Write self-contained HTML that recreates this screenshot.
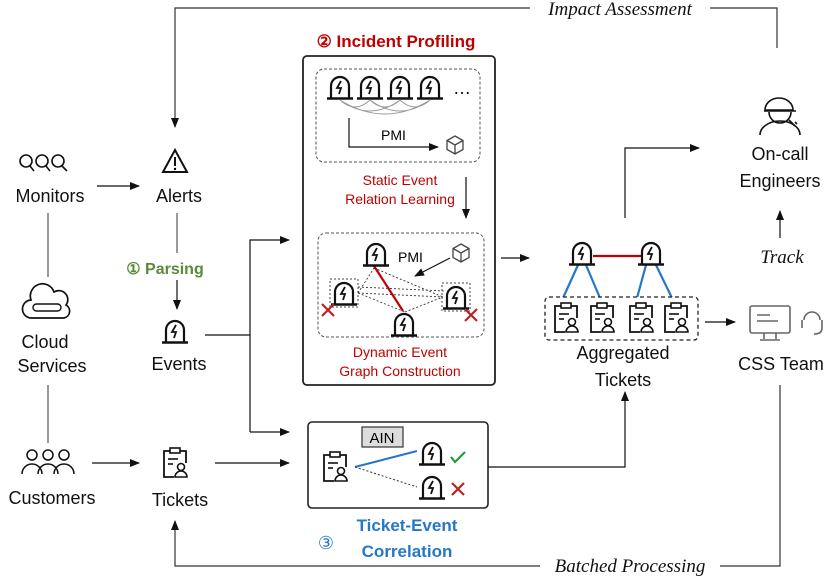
<!DOCTYPE html>
<html><head><meta charset="utf-8"><style>
body{margin:0;background:#fff}
svg{display:block}
text{font-family:"Liberation Sans",sans-serif}
.l{font-size:18px;fill:#111;text-anchor:middle}
.r{font-size:14px;fill:#c00000;text-anchor:middle}
.it{font-family:"Liberation Serif",serif;font-style:italic;font-size:19px;fill:#111;text-anchor:middle}
</style></head><body>
<svg width="831" height="579" viewBox="0 0 831 579" xmlns="http://www.w3.org/2000/svg">
<defs>
<marker id="a" markerWidth="10" markerHeight="10" refX="9" refY="5" orient="auto" markerUnits="userSpaceOnUse"><path d="M0,1 L10,5 L0,9z" fill="#111"/></marker>
<symbol id="ev" viewBox="-14 -24 28 26" overflow="visible">
<path d="M-9,0 V-12 A9,9 0 0 1 9,-12 V0" fill="none" stroke="#111" stroke-width="2.2"/>
<line x1="-13" y1="0.5" x2="13" y2="0.5" stroke="#111" stroke-width="2.6"/>
<path d="M1,-17 L-3,-10 L1,-10 L-1,-4" fill="none" stroke="#111" stroke-width="1.8"/>
</symbol>
<symbol id="tk" viewBox="-14 -16 28 32" overflow="visible">
<path d="M-4,-12 H-11 V14 H-1 M4,-12 H11 V0" fill="none" stroke="#111" stroke-width="1.8"/>
<rect x="-5" y="-15" width="10" height="5" fill="#fff" stroke="#111" stroke-width="1.6"/>
<line x1="-7" y1="-4" x2="3" y2="-4" stroke="#111" stroke-width="1.6"/>
<line x1="-7" y1="1" x2="-2" y2="1" stroke="#111" stroke-width="1.6"/>
<circle cx="6" cy="4" r="3.5" fill="#fff" stroke="#111" stroke-width="1.6"/>
<path d="M0,14 A6,6 0 0 1 12,14 Z" fill="#fff" stroke="#111" stroke-width="1.6"/>
</symbol>
<symbol id="cube" viewBox="-10 -10 20 20" overflow="visible">
<path d="M0,-9 L8,-4.5 V4.5 L0,9 L-8,4.5 V-4.5 Z M-8,-4.5 L0,0 L8,-4.5 M0,0 V9" fill="none" stroke="#444" stroke-width="1.3"/>
</symbol>
<symbol id="x" viewBox="-7 -7 14 14" overflow="visible">
<path d="M-6,-6 L6,6 M6,-6 L-6,6" stroke="#b22" stroke-width="2.2"/>
</symbol>
</defs>

<!-- Impact Assessment -->
<path d="M777,48 V8 H175 V127" fill="none" stroke="#333" stroke-width="1.2" marker-end="url(#a)"/>
<rect x="530" y="0" width="180" height="18" fill="#fff"/>
<text class="it" x="620" y="15">Impact Assessment</text>

<!-- Monitors -->
<g fill="none" stroke="#111" stroke-width="1.6">
<circle cx="26" cy="161" r="6"/><circle cx="42" cy="161" r="6"/><circle cx="58" cy="161" r="6"/>
<path d="M30,166 L34,171 M46,166 L50,171 M62,166 L67,171"/>
</g>
<text class="l" x="50" y="202">Monitors</text>
<line x1="97" y1="186" x2="139" y2="186" stroke="#111" stroke-width="1.3" marker-end="url(#a)"/>
<path d="M175,150 L187,172 H163 Z" fill="none" stroke="#111" stroke-width="2"/>
<line x1="175" y1="157" x2="175" y2="166" stroke="#111" stroke-width="2"/><circle cx="175" cy="169" r="1.2"/>
<text class="l" x="179" y="202">Alerts</text>

<line x1="48" y1="213" x2="48" y2="277" stroke="#555" stroke-width="1.2"/>
<!-- cloud -->
<path d="M32,318 A9,9 0 0 1 31,300 A12,12 0 0 1 54,292 A9,9 0 0 1 66,305 A7,7 0 0 1 64,318 Z" fill="none" stroke="#111" stroke-width="1.7"/>
<rect x="33" y="304" width="28" height="7" rx="3.5" fill="none" stroke="#111" stroke-width="1.4"/>
<text class="l" x="45" y="348">Cloud</text>
<text class="l" x="52" y="372">Services</text>
<line x1="48" y1="385" x2="48" y2="443" stroke="#555" stroke-width="1.2"/>
<!-- customers -->
<g fill="none" stroke="#111" stroke-width="1.5">
<circle cx="32" cy="455" r="5"/><circle cx="48" cy="455" r="5"/><circle cx="64" cy="455" r="5"/>
<path d="M22,474 A10,10 0 0 1 42,474 M38,474 A10,10 0 0 1 58,474 M54,474 A10,10 0 0 1 74,474"/>
</g>
<text class="l" x="52" y="504">Customers</text>
<line x1="92" y1="463" x2="139" y2="463" stroke="#111" stroke-width="1.3" marker-end="url(#a)"/>
<use href="#tk" x="161" y="447" width="28" height="32"/>
<text class="l" x="180" y="506">Tickets</text>
<line x1="215" y1="463" x2="289" y2="463" stroke="#111" stroke-width="1.3" marker-end="url(#a)"/>

<!-- Parsing -->
<line x1="177" y1="213" x2="177" y2="253" stroke="#555" stroke-width="1.2"/>
<text x="165" y="274" style="font-size:16px;font-weight:bold;fill:#5a8a3a;text-anchor:middle">① Parsing</text>
<line x1="177" y1="280" x2="177" y2="309" stroke="#111" stroke-width="1.2" marker-end="url(#a)"/>
<use href="#ev" x="161" y="318" width="28" height="26"/>
<text class="l" x="179" y="370">Events</text>
<path d="M205,335 H250 V432" fill="none" stroke="#111" stroke-width="1.2"/>
<path d="M250,335 V240 H289" fill="none" stroke="#111" stroke-width="1.2" marker-end="url(#a)"/>
<line x1="250" y1="432" x2="289" y2="432" stroke="#111" stroke-width="1.2" marker-end="url(#a)"/>

<!-- Incident profiling -->
<text x="396" y="47" style="font-size:17px;font-weight:bold;fill:#c00000;text-anchor:middle">② Incident Profiling</text>
<rect x="303" y="56" width="192" height="329" rx="4" fill="none" stroke="#222" stroke-width="1.8"/>
<rect x="316" y="69" width="164" height="93" rx="8" fill="none" stroke="#555" stroke-width="1" stroke-dasharray="3,2"/>
<use href="#ev" x="326" y="74" width="28" height="26"/>
<use href="#ev" x="356" y="74" width="28" height="26"/>
<use href="#ev" x="386" y="74" width="28" height="26"/>
<use href="#ev" x="416" y="74" width="28" height="26"/>
<text x="462" y="94" style="font-size:18px;text-anchor:middle">…</text>
<g fill="none" stroke="#999" stroke-width="0.9">
<path d="M340,100 Q355,114 370,100 M370,100 Q385,114 400,100 M400,100 Q415,114 430,100 M340,100 Q370,122 400,100 M370,100 Q400,122 430,100 M340,100 Q385,128 430,100"/>
</g>
<path d="M349,118 V147 H438" fill="none" stroke="#111" stroke-width="1.2" marker-end="url(#a)"/>
<text x="381" y="140" style="font-size:14px">PMI</text>
<use href="#cube" x="445" y="135" width="20" height="20"/>
<text class="r" x="400" y="185">Static Event</text>
<text class="r" x="400" y="204">Relation Learning</text>
<line x1="466" y1="177" x2="466" y2="218" stroke="#111" stroke-width="1.2" marker-end="url(#a)"/>
<rect x="318" y="233" width="166" height="104" rx="8" fill="none" stroke="#555" stroke-width="1" stroke-dasharray="3,2"/>
<g stroke="#333" stroke-width="0.9" stroke-dasharray="2,2" fill="none">
<path d="M358,293 L374,268 M358,293 L443,297 M358,293 L405,312 M374,268 L443,297 M405,312 L443,297 M358,287 L445,291"/>
</g>
<line x1="374" y1="266" x2="403" y2="311" stroke="#c00000" stroke-width="2.2"/>
<rect x="330" y="279" width="28" height="28" fill="none" stroke="#444" stroke-width="1" stroke-dasharray="2,2"/>
<rect x="442" y="283" width="28" height="28" fill="none" stroke="#444" stroke-width="1" stroke-dasharray="2,2"/>
<use href="#ev" x="362" y="241" width="28" height="26"/>
<use href="#ev" x="330" y="280" width="28" height="26"/>
<use href="#ev" x="442" y="284" width="28" height="26"/>
<use href="#ev" x="390" y="311" width="28" height="26"/>
<text x="398" y="262" style="font-size:14px">PMI</text>
<use href="#cube" x="451" y="243" width="20" height="20"/>
<line x1="450" y1="258" x2="415" y2="276" stroke="#111" stroke-width="1.2" marker-end="url(#a)"/>
<use href="#x" x="321" y="303" width="14" height="14"/>
<use href="#x" x="464" y="308" width="14" height="14"/>
<text class="r" x="400" y="357">Dynamic Event</text>
<text class="r" x="400" y="376">Graph Construction</text>

<!-- to aggregated -->
<line x1="501" y1="258" x2="529" y2="258" stroke="#111" stroke-width="1.2" marker-end="url(#a)"/>
<line x1="593" y1="256" x2="642" y2="256" stroke="#c00000" stroke-width="2.2"/>
<g stroke="#2577c8" stroke-width="2.2">
<line x1="578" y1="265" x2="563" y2="298"/><line x1="586" y1="265" x2="600" y2="298"/>
<line x1="646" y1="265" x2="637" y2="298"/><line x1="656" y1="265" x2="672" y2="298"/>
</g>
<use href="#ev" x="568" y="240" width="28" height="26"/>
<use href="#ev" x="637" y="240" width="28" height="26"/>
<rect x="545" y="297" width="153" height="43" rx="4" fill="#fff" stroke="#222" stroke-width="1.3" stroke-dasharray="4,3"/>
<use href="#tk" x="552" y="302" width="28" height="32"/>
<use href="#tk" x="588" y="302" width="28" height="32"/>
<use href="#tk" x="627" y="302" width="28" height="32"/>
<use href="#tk" x="662" y="302" width="28" height="32"/>
<text class="l" x="623" y="359">Aggregated</text>
<text class="l" x="623" y="386">Tickets</text>
<path d="M625,218 V148 H699" fill="none" stroke="#111" stroke-width="1.2" marker-end="url(#a)"/>
<line x1="705" y1="322" x2="735" y2="322" stroke="#111" stroke-width="1.2" marker-end="url(#a)"/>

<!-- engineer -->
<g fill="none" stroke="#111" stroke-width="1.6">
<path d="M765,110 A14,12 0 0 1 793,110 Z"/>
<line x1="764" y1="111" x2="796" y2="111"/>
<path d="M769,112 A11,11 0 0 0 791,112"/>
<path d="M760,135 A20,14 0 0 1 800,135"/>
<path d="M789,120 l6,6 M795,122 l2,2"/>
</g>
<text class="l" x="780" y="160">On-call</text>
<text class="l" x="780" y="187">Engineers</text>
<line x1="780" y1="238" x2="780" y2="211" stroke="#111" stroke-width="1.2" marker-end="url(#a)"/>
<text class="it" x="782" y="263">Track</text>
<!-- monitor -->
<g fill="none" stroke="#666" stroke-width="1.6">
<rect x="750" y="306" width="40" height="27" rx="2"/>
<path d="M764,333 V339 M776,333 V339 M760,340 H780"/>
<path d="M757,315 H770 M757,321 H778"/>
<path d="M804,320 A8,8 0 0 1 820,320 M802,320 v8 M822,320 v8 M822,328 q0,6 -8,6"/>
</g>
<text class="l" x="781" y="370">CSS Team</text>

<!-- Batched -->
<path d="M780,385 V566 H175 V521" fill="none" stroke="#333" stroke-width="1.2" marker-end="url(#a)"/>
<rect x="540" y="556" width="180" height="20" fill="#fff"/>
<text class="it" x="630" y="572">Batched Processing</text>

<!-- ticket-event box -->
<rect x="308" y="422" width="180" height="86" rx="4" fill="none" stroke="#222" stroke-width="1.6"/>
<rect x="362" y="427" width="41" height="20" fill="#ddd" stroke="#333" stroke-width="1.2"/>
<text x="382" y="443" style="font-size:15px;text-anchor:middle">AIN</text>
<line x1="355" y1="467" x2="417" y2="451" stroke="#2577c8" stroke-width="2"/>
<line x1="355" y1="467" x2="417" y2="487" stroke="#333" stroke-width="1" stroke-dasharray="2,2"/>
<use href="#tk" x="321" y="451" width="28" height="32"/>
<use href="#ev" x="418" y="440" width="28" height="26"/>
<use href="#ev" x="418" y="474" width="28" height="26"/>
<path d="M451,457 L455,462 L465,452" fill="none" stroke="#2a9a3a" stroke-width="2.2"/>
<use href="#x" x="451" y="482" width="14" height="14"/>
<path d="M488,467 H625 V392" fill="none" stroke="#111" stroke-width="1.2" marker-end="url(#a)"/>
<text x="326" y="549" style="font-size:18px;fill:#2577c8;text-anchor:middle">③</text>
<text x="407" y="531" style="font-size:17px;font-weight:bold;fill:#2577c8;text-anchor:middle">Ticket-Event</text>
<text x="407" y="557" style="font-size:17px;font-weight:bold;fill:#2577c8;text-anchor:middle">Correlation</text>
</svg>
</body></html>
